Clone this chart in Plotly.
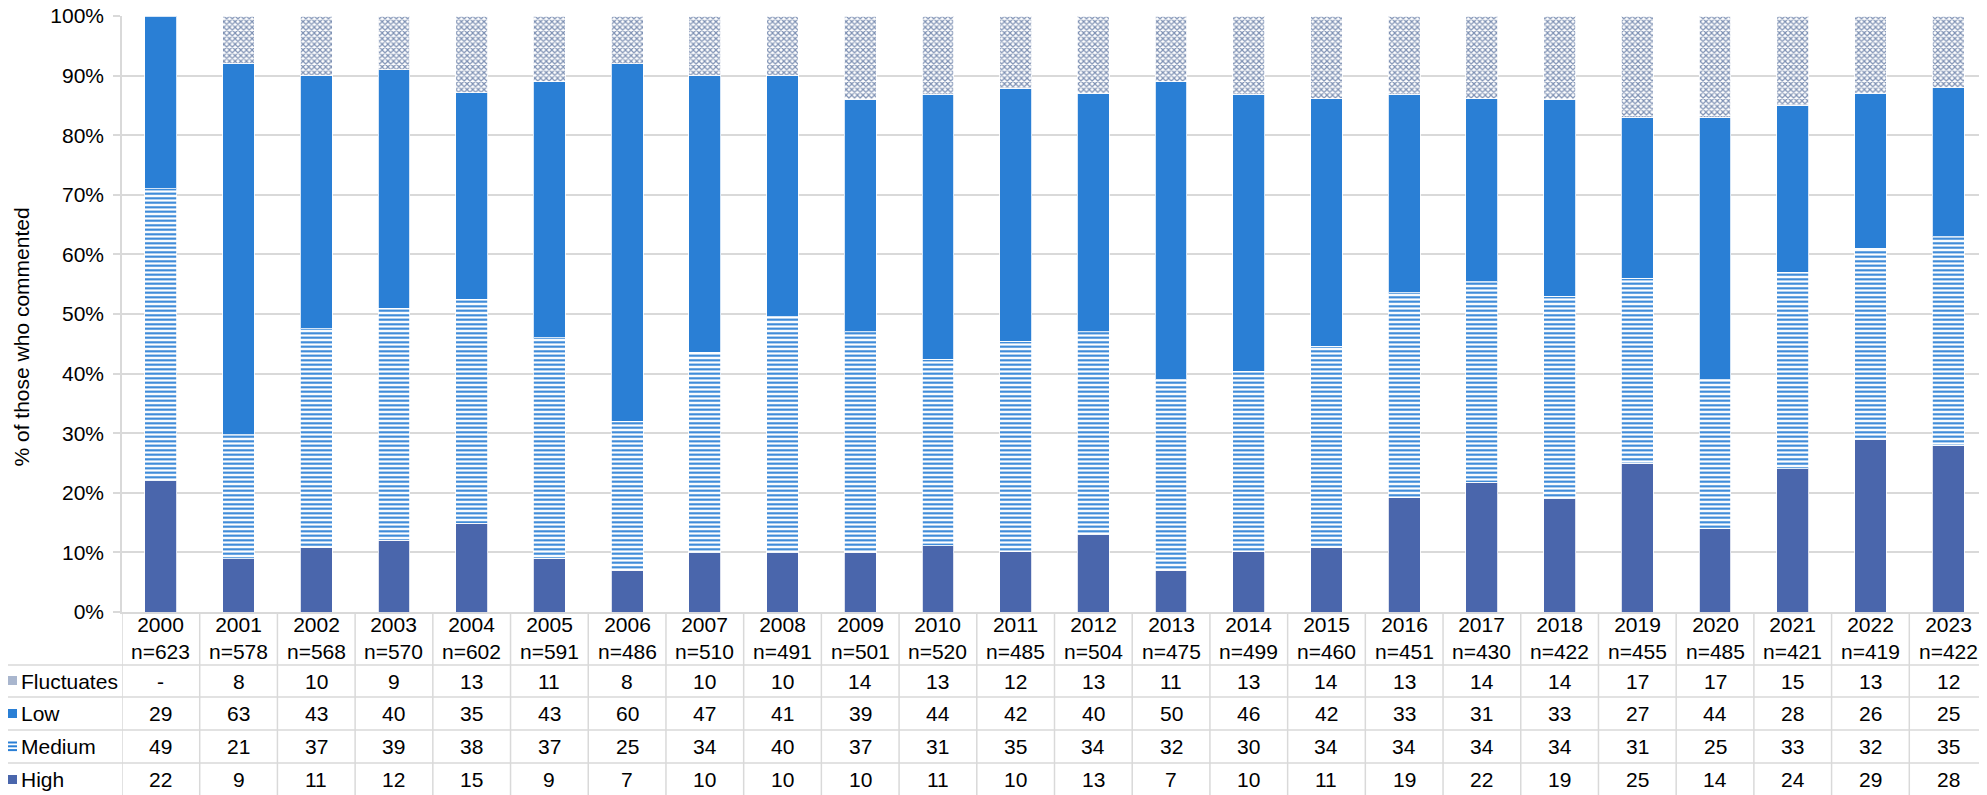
import plotly.graph_objects as go

years = [str(y) for y in range(2000, 2024)]
n_values = [623, 578, 568, 570, 602, 591, 486, 510, 491, 501, 520, 485,
            504, 475, 499, 460, 451, 430, 422, 455, 485, 421, 419, 422]
fluctuates = [None, 8, 10, 9, 13, 11, 8, 10, 10, 14, 13, 12,
              13, 11, 13, 14, 13, 14, 14, 17, 17, 15, 13, 12]
low = [29, 63, 43, 40, 35, 43, 60, 47, 41, 39, 44, 42,
       40, 50, 46, 42, 33, 31, 33, 27, 44, 28, 26, 25]
medium = [49, 21, 37, 39, 38, 37, 25, 34, 40, 37, 31, 35,
          34, 32, 30, 34, 34, 34, 34, 31, 25, 33, 32, 35]
high = [22, 9, 11, 12, 15, 9, 7, 10, 10, 10, 11, 10,
        13, 7, 10, 11, 19, 22, 19, 25, 14, 24, 29, 28]
row_labels = ["Fluctuates", "Low", "Medium", "High"]

C_HIGH = "#4A66AC"
C_LOW = "#2A7FD5"
C_FLUC = "#7D90B3"
GRID = "#D9D9D9"
FONT = "Liberation Sans, Arial, sans-serif"
FS = 21

# page body has an 8px margin; all page coordinates below are shifted by OFF
OFF = 8
W, H = 1987 - OFF, 795 - OFF
L, T, B = 122 - OFF, 16 - OFF, 612 - OFF
PW, PH = W - L, B - T


def xp(px):
    return (px - OFF - L) / PW


def yp(py):
    return (B - (py - OFF)) / PH


fig = go.Figure()
line = dict(width=1, color="rgba(255,255,255,0.8)")
fig.add_bar(x=years, y=high, name="High", marker=dict(color=C_HIGH, line=line))
fig.add_bar(x=years, y=medium, name="Medium",
            marker=dict(color=C_LOW, line=line,
                        pattern=dict(shape="-", fillmode="replace", bgcolor="white",
                                     fgcolor=C_LOW, size=4.5, solidity=0.45)))
fig.add_bar(x=years, y=low, name="Low", marker=dict(color=C_LOW, line=line))
fig.add_bar(x=years, y=fluctuates, name="Fluctuates",
            marker=dict(color=C_FLUC, line=line,
                        pattern=dict(shape="x", fillmode="replace", bgcolor="white",
                                     fgcolor=C_FLUC, size=4, solidity=0.5)))

shapes = []
annotations = []

# table horizontal lines (page y coordinates)
row_edges = [612, 665, 697, 730, 763, 795]
for py in row_edges[1:5]:
    shapes.append(dict(type="line", xref="paper", yref="paper", x0=xp(OFF), x1=1,
                       y0=yp(py), y1=yp(py), line=dict(color=GRID, width=1.5)))
# table vertical lines
for i in range(len(years)):
    shapes.append(dict(type="line", xref="x", yref="paper", x0=i - 0.5, x1=i - 0.5,
                       y0=yp(612), y1=yp(795), line=dict(color=GRID, width=1.5)))

# header cells
for i, (yr, n) in enumerate(zip(years, n_values)):
    annotations.append(dict(x=i, xref="x", y=yp((612 + 665) / 2), yref="paper",
                            text=f"{yr}<br>n={n}", showarrow=False,
                            font=dict(size=FS, color="#000", family=FONT),
                            xanchor="center", yanchor="middle"))

series = [fluctuates, low, medium, high]
for r, (lab, vals) in enumerate(zip(row_labels, series)):
    cy = (row_edges[r + 1] + row_edges[r + 2]) / 2
    annotations.append(dict(x=xp(19), xref="paper", y=yp(cy), yref="paper",
                            text=lab, showarrow=False, xanchor="left", yanchor="middle",
                            font=dict(size=FS, color="#000", family=FONT)))
    for i, v in enumerate(vals):
        annotations.append(dict(x=i, xref="x", y=yp(cy), yref="paper",
                                text="-" if v is None else str(v), showarrow=False,
                                xanchor="center", yanchor="middle",
                                font=dict(size=FS, color="#000", family=FONT)))

# legend keys in table
KX0, KX1 = 8, 17


def key_rect(py0, py1, color):
    shapes.append(dict(type="rect", xref="paper", yref="paper", x0=xp(KX0), x1=xp(KX1),
                       y0=yp(py1), y1=yp(py0), fillcolor=color, line=dict(width=0)))


key_rect(676, 685, "#A9B6CE")
key_rect(709, 718, C_LOW)
for k in range(3):
    py = 742.5 + k * 3.8
    shapes.append(dict(type="line", xref="paper", yref="paper", x0=xp(KX0), x1=xp(KX1),
                       y0=yp(py), y1=yp(py), line=dict(color=C_LOW, width=2)))
key_rect(775, 784, C_HIGH)

# y-axis title
annotations.append(dict(x=xp(OFF + 12.5), xref="paper", y=yp(337), yref="paper",
                        text="% of those who commented", textangle=-90, showarrow=False,
                        xanchor="center", yanchor="middle",
                        font=dict(size=FS, color="#000", family=FONT)))

fig.update_layout(
    width=W, height=H,
    margin=dict(l=L, r=0, t=T, b=H - B, autoexpand=False),
    barmode="stack", barnorm="percent", bargap=0.59,
    plot_bgcolor="white", paper_bgcolor="white",
    showlegend=False,
    font=dict(family=FONT, size=FS, color="#000"),
    xaxis=dict(type="category", showticklabels=False, range=[-0.5, len(years) - 0.5],
               showgrid=False, showline=True, linecolor=GRID, linewidth=1.5, ticks=""),
    yaxis=dict(range=[0, 100], dtick=10, ticksuffix="%", showgrid=True, gridcolor=GRID,
               gridwidth=1.5, showline=True, linecolor=GRID, linewidth=1.5,
               ticks="outside", ticklen=7, tickcolor=GRID, tickwidth=1.5,
               ticklabelstandoff=5, ticklabeloverflow="allow", zeroline=False,
               tickfont=dict(size=FS, color="#000", family=FONT)),
    shapes=shapes, annotations=annotations,
)

fig.write_html("out.html")
